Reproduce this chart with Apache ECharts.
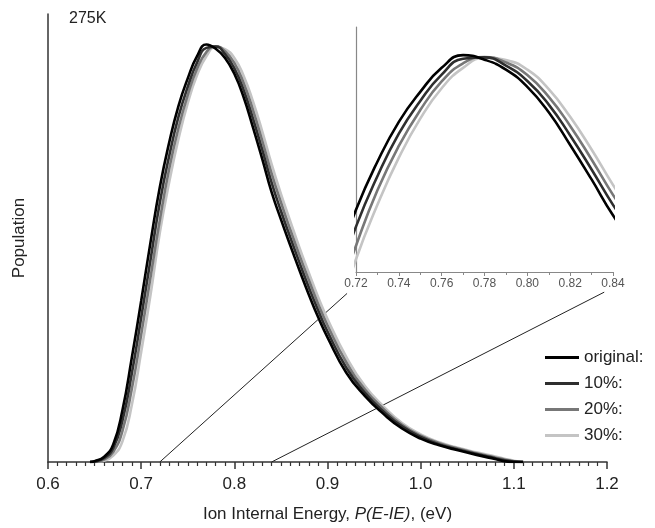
<!DOCTYPE html>
<html>
<head>
<meta charset="utf-8">
<script src="https://cdn.jsdelivr.net/npm/echarts@6/dist/echarts.min.js"></script>
<style>
  html, body { margin: 0; padding: 0; background: #fff; }
  #chart { width: 655px; height: 528px; }
</style>
</head>
<body>
<div id="chart"></div>
<script>
// energy grid (eV) shared by the four curves
var energy = [0.645, 0.65, 0.66, 0.67, 0.68, 0.69, 0.70, 0.71, 0.72, 0.73, 0.74, 0.75, 0.76, 0.77, 0.78, 0.79,
  0.80, 0.81, 0.82, 0.83, 0.84, 0.85, 0.86, 0.87, 0.88, 0.89, 0.90, 0.92, 0.94, 0.96, 0.98, 1.00,
  1.02, 1.04, 1.06, 1.08, 1.09, 1.10, 1.11];

// normalised population
var original = [0, 0.002, 0.012, 0.042, 0.125, 0.25, 0.385, 0.525, 0.657, 0.763, 0.851, 0.917, 0.970, 0.998, 0.988, 0.966,
  0.928, 0.872, 0.800, 0.724, 0.645, 0.580, 0.518, 0.458, 0.400, 0.346, 0.298, 0.214, 0.158, 0.115, 0.080, 0.056,
  0.040, 0.028, 0.017, 0.007, 0.002, 0, 0];
var pct10 = [0, 0.001, 0.009, 0.033, 0.10, 0.212, 0.345, 0.483, 0.62, 0.731, 0.825, 0.897, 0.955, 0.990, 0.993, 0.975,
  0.941, 0.889, 0.821, 0.746, 0.668, 0.600, 0.537, 0.476, 0.417, 0.362, 0.312, 0.226, 0.166, 0.121, 0.085, 0.060,
  0.042, 0.030, 0.019, 0.009, 0.004, 0.001, 0];
var pct20 = [0, 0, 0.006, 0.024, 0.075, 0.175, 0.304, 0.441, 0.578, 0.70, 0.798, 0.877, 0.940, 0.980, 0.994, 0.982,
  0.954, 0.906, 0.842, 0.768, 0.690, 0.621, 0.556, 0.494, 0.435, 0.378, 0.327, 0.239, 0.174, 0.127, 0.089, 0.063,
  0.045, 0.032, 0.021, 0.011, 0.006, 0.002, 0];
var pct30 = [0, 0, 0.003, 0.015, 0.05, 0.137, 0.263, 0.399, 0.548, 0.668, 0.772, 0.858, 0.925, 0.970, 0.992, 0.987,
  0.966, 0.923, 0.862, 0.790, 0.712, 0.641, 0.576, 0.512, 0.452, 0.394, 0.342, 0.252, 0.182, 0.133, 0.093, 0.066,
  0.047, 0.034, 0.023, 0.013, 0.008, 0.003, 0];

var seriesNames = ["original:", "10%:", "20%:", "30%:"];
var seriesValues = [original, pct10, pct20, pct30];
var seriesColors = ["#000000", "#2e2e2e", "#777777", "#c4c4c4"];

// zoom guide lines (main-plot data units): from axis to below the inset labels
var zoomLinks = [
  [[0.72, 0], [0.921, 0.403]],
  [[0.84, 0], [1.197, 0.406]]
];

var mainTicks = [0.6, 1.2, 0.1];
var insetTicks = [0.72, 0.84, 0.02];

var font = "Liberation Sans, Arial, sans-serif";

function pairs(vals) {
  return energy.map(function(e, i) { return [e, vals[i]]; });
}

var series = [];
[0, 1].forEach(function(g) {
  seriesNames.forEach(function(name, i) {
    series.push({
      name: name,
      type: "line",
      xAxisIndex: g,
      yAxisIndex: g,
      data: pairs(seriesValues[i]),
      smooth: 0.5,
      showSymbol: false,
      clip: true,
      z: 10 - i,
      lineStyle: { color: seriesColors[i], width: 2.6 },
      itemStyle: { color: seriesColors[i] }
    });
  });
});
zoomLinks.forEach(function(seg) {
  series.push({
    type: "line",
    xAxisIndex: 0,
    yAxisIndex: 0,
    data: seg,
    showSymbol: false,
    silent: true,
    z: 1,
    lineStyle: { color: "#222", width: 1 }
  });
});

var chart = echarts.init(document.getElementById("chart"));
chart.setOption({
  backgroundColor: "#fff",
  animation: false,
  textStyle: { fontFamily: font },
  grid: [
    { left: 48, right: 48, top: 14, bottom: 60 },
    { left: 356, right: 42, top: 27, bottom: 256 }
  ],
  legend: {
    orient: "vertical",
    left: 540,
    top: 344,
    icon: "rect",
    itemWidth: 34,
    itemHeight: 3,
    itemGap: 9,
    data: seriesNames,
    textStyle: { fontSize: 17, color: "#222", fontFamily: font }
  },
  graphic: [
    {
      type: "text",
      left: 69,
      top: 11,
      style: { text: "275K", font: "16px " + font, fill: "#222" }
    }
  ],
  xAxis: [
    {
      type: "value",
      gridIndex: 0,
      min: mainTicks[0],
      max: mainTicks[1],
      interval: mainTicks[2],
      name: "{a|Ion Internal Energy, }{b|P(E-IE)}{a|, (eV)}",
      nameLocation: "middle",
      nameGap: 44,
      nameTextStyle: {
        rich: {
          a: { fontSize: 17, color: "#222", fontFamily: font },
          b: { fontSize: 17, color: "#222", fontStyle: "italic", fontFamily: font }
        }
      },
      axisLine: { lineStyle: { color: "#333", width: 1.5 } },
      axisTick: { length: 7, lineStyle: { color: "#333", width: 1.5 } },
      minorTick: { show: true, splitNumber: 10, length: 4, lineStyle: { color: "#333", width: 1.2 } },
      axisLabel: {
        fontSize: 17, color: "#222", margin: 14,
        formatter: function(v) { return v.toFixed(1); }
      },
      splitLine: { show: false }
    },
    {
      type: "value",
      gridIndex: 1,
      min: insetTicks[0],
      max: insetTicks[1],
      interval: insetTicks[2],
      axisLine: { lineStyle: { color: "#888", width: 1.2 } },
      axisTick: { length: 4, lineStyle: { color: "#888" } },
      minorTick: { show: true, splitNumber: 2, length: 3, lineStyle: { color: "#888" } },
      axisLabel: {
        fontSize: 12, color: "#555", margin: 6,
        formatter: function(v) { return v.toFixed(2); }
      },
      splitLine: { show: false }
    }
  ],
  yAxis: [
    {
      type: "value",
      gridIndex: 0,
      min: 0,
      max: 1.071,
      name: "Population",
      nameLocation: "middle",
      nameGap: 20,
      nameTextStyle: { fontSize: 17, color: "#222", fontFamily: font },
      axisLine: { show: true, lineStyle: { color: "#333", width: 1.5 } },
      axisTick: { show: false },
      axisLabel: { show: false },
      splitLine: { show: false }
    },
    {
      type: "value",
      gridIndex: 1,
      min: 0.52,
      max: 1.06,
      axisLine: { show: true, lineStyle: { color: "#888", width: 1.2 } },
      axisTick: { show: false },
      axisLabel: { show: false },
      splitLine: { show: false }
    }
  ],
  series: series
});
</script>
</body>
</html>
